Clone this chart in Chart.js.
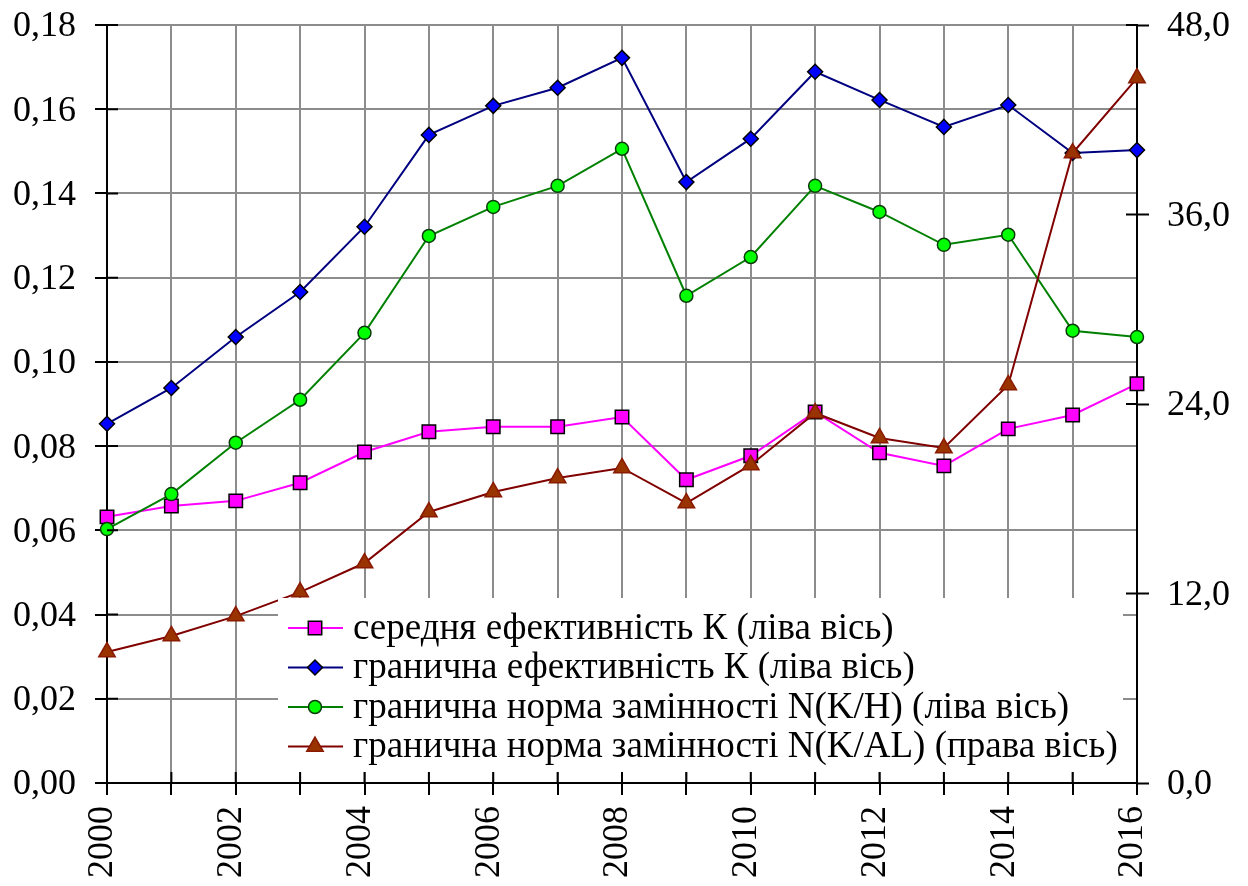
<!DOCTYPE html>
<html lang="uk">
<head>
<meta charset="utf-8">
<script src="https://cdn.jsdelivr.net/npm/chart.js@4.4.1/dist/chart.umd.min.js"></script>
<style>
  html, body { margin: 0; padding: 0; background: #fff; }
  #wrap { position: relative; width: 1248px; height: 886px; }
</style>
</head>
<body>
<div id="wrap"><canvas id="grafik"></canvas></div>
<script>
// дані
const roky = ['2000', '2001', '2002', '2003', '2004', '2005', '2006', '2007', '2008',
              '2009', '2010', '2011', '2012', '2013', '2014', '2015', '2016'];

// ліва вісь
const serednyaEf = [0.0632, 0.0658, 0.0670, 0.0713, 0.0786, 0.0834, 0.0846, 0.0846, 0.0869,
                    0.0720, 0.0777, 0.0881, 0.0784, 0.0753, 0.0841, 0.0874, 0.0948];
const granychnaEf = [0.0853, 0.0938, 0.1059, 0.1166, 0.1321, 0.1539, 0.1608, 0.1651, 0.1722,
                     0.1427, 0.1530, 0.1689, 0.1622, 0.1558, 0.1610, 0.1496, 0.1503];
const normaKH = [0.0603, 0.0686, 0.0808, 0.0910, 0.1069, 0.1299, 0.1368, 0.1418, 0.1506,
                 0.1157, 0.1249, 0.1418, 0.1356, 0.1278, 0.1302, 0.1074, 0.1059];
// права вісь
const normaKAL = [8.29, 9.31, 10.57, 12.09, 13.93, 17.16, 18.43, 19.31, 19.95,
                  17.73, 20.14, 23.43, 21.85, 21.21, 25.20, 39.89, 44.64];

const nazvy = [
    'середня ефективність К (ліва вісь)',
    'гранична ефективність К (ліва вісь)',
    'гранична норма замінності N(K/H) (ліва вісь)',
    'гранична норма замінності N(K/AL) (права вісь)'
];

const livaVis = { min: 0, max: 0.18, krok: 0.02 };
const pravaVis = { min: 0, max: 48, krok: 12 };

const shryft = '"Liberation Serif", "Times New Roman", serif';

// внутрішні частини поділок (перетинають осі)
const vnutrishniPodilky = {
    id: 'vnutrishniPodilky',
    afterDraw(chart) {
        const ctx = chart.ctx;
        const a = chart.chartArea;
        const d = 11;
        ctx.save();
        ctx.strokeStyle = '#000';
        ctx.lineWidth = 2;
        ctx.beginPath();
        const y = chart.scales.y;
        y.ticks.forEach((t, i) => {
            const p = y.getPixelForTick(i);
            ctx.moveTo(a.left, p);
            ctx.lineTo(a.left + d, p);
        });
        const y1 = chart.scales.y1;
        y1.ticks.forEach((t, i) => {
            const p = y1.getPixelForTick(i);
            ctx.moveTo(a.right, p);
            ctx.lineTo(a.right - d, p);
        });
        const x = chart.scales.x;
        x.ticks.forEach((t, i) => {
            const p = x.getPixelForTick(i);
            ctx.moveTo(p, a.bottom);
            ctx.lineTo(p, a.bottom - d);
        });
        ctx.stroke();
        ctx.restore();
    }
};

// легенда всередині області графіка
const legendaVseredyni = {
    id: 'legendaVseredyni',
    afterDatasetsDraw(chart, args, opts) {
        const ctx = chart.ctx;
        ctx.save();
        ctx.fillStyle = '#fff';
        ctx.fillRect(opts.x, opts.y, opts.w, opts.h);
        ctx.font = opts.font;
        ctx.textBaseline = 'middle';
        ctx.textAlign = 'left';
        [0, 1, 2, 3].forEach((nomer, i) => {
            const ds = chart.data.datasets.find(d => d.poryadok === nomer);
            const cy = opts.pershyi + i * opts.krok;
            ctx.strokeStyle = ds.borderColor;
            ctx.lineWidth = ds.borderWidth;
            ctx.beginPath();
            ctx.moveTo(opts.x + 10, cy);
            ctx.lineTo(opts.x + 65, cy);
            ctx.stroke();
            ctx.fillStyle = ds.pointBackgroundColor;
            ctx.strokeStyle = ds.pointBorderColor;
            ctx.lineWidth = ds.pointBorderWidth;
            Chart.helpers.drawPoint(ctx, {
                pointStyle: ds.pointStyle,
                radius: ds.pointRadius,
                rotation: 0,
                borderWidth: ds.pointBorderWidth
            }, opts.x + 37, cy);
            ctx.fillStyle = '#000';
            ctx.fillText(ds.label, opts.x + 75, cy + 1);
        });
        ctx.restore();
    }
};

function bezVidstupiv(s) {
    s.paddingTop = 0;
    s.paddingBottom = 0;
    s.paddingLeft = 0;
    s.paddingRight = 0;
}

const ctx = document.getElementById('grafik').getContext('2d');
new Chart(ctx, {
    type: 'line',
    data: {
        labels: roky,
        datasets: [{
            label: nazvy[3],
            poryadok: 3,
            data: normaKAL,
            yAxisID: 'y1',
            order: 0,
            borderColor: '#800000',
            borderWidth: 2,
            pointStyle: 'triangle',
            pointRadius: 9.5,
            pointBackgroundColor: '#993300',
            pointBorderColor: '#8a1a00',
            pointBorderWidth: 1.5
        }, {
            label: nazvy[2],
            poryadok: 2,
            data: normaKH,
            yAxisID: 'y',
            order: 1,
            borderColor: '#008000',
            borderWidth: 2,
            pointStyle: 'circle',
            pointRadius: 6.5,
            pointBackgroundColor: '#00ff00',
            pointBorderColor: '#0a3a0a',
            pointBorderWidth: 1.5
        }, {
            label: nazvy[1],
            poryadok: 1,
            data: granychnaEf,
            yAxisID: 'y',
            order: 2,
            borderColor: '#000080',
            borderWidth: 2,
            pointStyle: 'rectRot',
            pointRadius: 7.5,
            pointBackgroundColor: '#0000ff',
            pointBorderColor: '#000',
            pointBorderWidth: 1.5
        }, {
            label: nazvy[0],
            poryadok: 0,
            data: serednyaEf,
            yAxisID: 'y',
            order: 3,
            borderColor: '#ff00ff',
            borderWidth: 2,
            pointStyle: 'rect',
            pointRadius: 9.5,
            pointBackgroundColor: '#ff00ff',
            pointBorderColor: '#000',
            pointBorderWidth: 1.5
        }]
    },
    options: {
        responsive: true,
        maintainAspectRatio: false,
        animation: false,
        layout: { padding: { top: 25, left: 0, right: 0, bottom: 0 } },
        elements: { line: { tension: 0, fill: false } },
        plugins: {
            legend: { display: false },
            tooltip: { enabled: false },
            legendaVseredyni: {
                x: 278, y: 598, w: 845, h: 174,
                pershyi: 628, krok: 39.5,
                font: '37px ' + shryft
            }
        },
        scales: {
            x: {
                offset: false,
                afterFit: s => { s.height = 103; bezVidstupiv(s); },
                grid: {
                    offset: false,
                    color: '#8c8c8c',
                    lineWidth: 2,
                    tickColor: '#000',
                    tickLength: 12,
                    tickWidth: 2
                },
                border: { color: '#000', width: 2 },
                ticks: {
                    autoSkip: false,
                    minRotation: 90,
                    maxRotation: 90,
                    padding: 11,
                    labelOffset: -4,
                    color: '#000',
                    font: { family: shryft, size: 36 },
                    callback: function(value) {
                        const rik = this.getLabelForValue(value);
                        return Number(rik) % 2 === 0 ? rik : '';
                    }
                }
            },
            y: {
                position: 'left',
                min: livaVis.min,
                max: livaVis.max,
                afterFit: s => { s.width = 107; bezVidstupiv(s); },
                grid: {
                    color: '#8c8c8c',
                    lineWidth: 2,
                    tickColor: '#000',
                    tickLength: 12,
                    tickWidth: 2
                },
                border: { color: '#000', width: 2 },
                ticks: {
                    stepSize: livaVis.krok,
                    padding: 19,
                    labelOffset: 2,
                    color: '#000',
                    font: { family: shryft, size: 36 },
                    callback: v => v.toFixed(2).replace('.', ',')
                }
            },
            y1: {
                position: 'right',
                min: pravaVis.min,
                max: pravaVis.max,
                afterFit: s => { s.width = 111; bezVidstupiv(s); },
                grid: {
                    drawOnChartArea: false,
                    tickColor: '#000',
                    tickLength: 12,
                    tickWidth: 2
                },
                border: { color: '#000', width: 2 },
                ticks: {
                    stepSize: pravaVis.krok,
                    padding: 18,
                    labelOffset: 2,
                    color: '#000',
                    font: { family: shryft, size: 36 },
                    callback: v => v.toFixed(1).replace('.', ',')
                }
            }
        }
    },
    plugins: [legendaVseredyni, vnutrishniPodilky]
});
</script>
</body>
</html>
